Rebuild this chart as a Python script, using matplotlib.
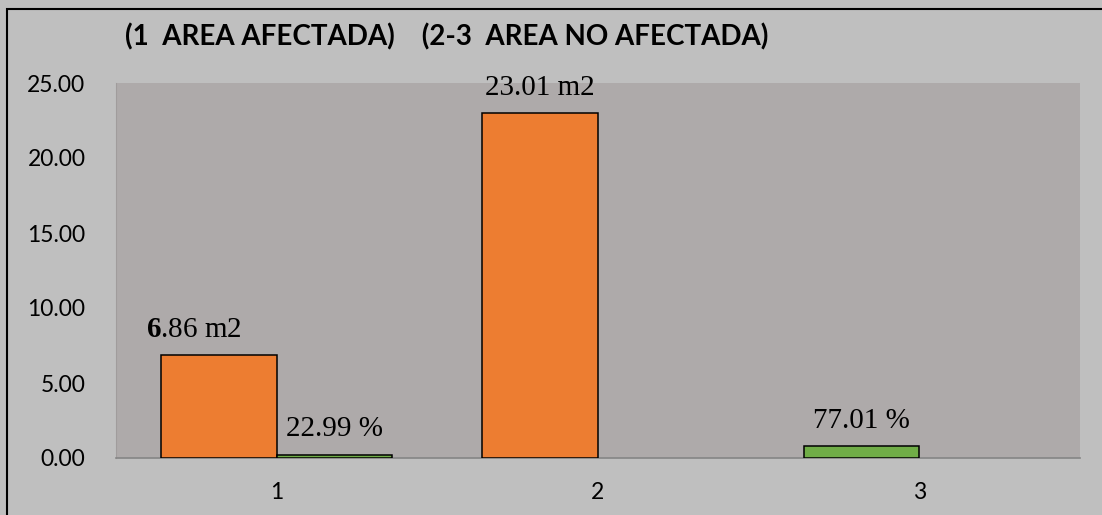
import numpy as np
import matplotlib
matplotlib.use("Agg")
import matplotlib.pyplot as plt
from matplotlib.patches import Rectangle

# datos del grafico
categorias = ["1", "2", "3"]
serie_izq = [6.86, 23.01, 0.7701]     # barra izquierda de cada categoria
colores_izq = ['#ED7D31', '#ED7D31', '#70AD47']
serie_der = [0.2299, 0.0, 0.0]        # barra derecha (22.99 %)
etiquetas_izq = [r"$\mathbf{6}$.86 m2", "23.01 m2", "77.01 %"]
etiquetas_der = ["22.99 %", "", ""]
ticks_y = [0, 5, 10, 15, 20, 25]
titulo = "(1  AREA AFECTADA)    (2-3  AREA NO AFECTADA)"

plt.rcParams['mathtext.fontset'] = 'custom'
plt.rcParams['mathtext.rm'] = 'Liberation Serif'
plt.rcParams['mathtext.bf'] = 'Liberation Serif:bold'

fig = plt.figure(figsize=(11.02, 5.15), dpi=100, facecolor='#BFBFBF')
ax = fig.add_axes([116/1102, 1 - 458/515, (1080 - 116)/1102, (458 - 83)/515])
ax.set_facecolor('#AEAAAA')

x = np.arange(len(categorias))
ancho = 0.36
izq = np.array(serie_izq)
der = np.array(serie_der)
m1 = izq > 0
m2 = der > 0
b1 = ax.bar(x[m1] - ancho/2, izq[m1], ancho, color=np.array(colores_izq)[m1],
            edgecolor='black', linewidth=1.1, zorder=3)
b2 = ax.bar(x[m2] + ancho/2, der[m2], ancho, color='#70AD47',
            edgecolor='black', linewidth=1.1, zorder=3)

# etiquetas de los valores
desp_izq = [-18, 0, 0]
for j, i in enumerate(np.where(m1)[0]):
    r = b1[j]
    ax.annotate(etiquetas_izq[i], (r.get_x() + r.get_width()/2, r.get_height()),
                xytext=(desp_izq[i], 13), textcoords='offset points',
                ha='center', va='baseline', fontsize=21, family='Liberation Serif')
for j, i in enumerate(np.where(m2)[0]):
    r = b2[j]
    ax.annotate(etiquetas_der[i], (r.get_x() + r.get_width()/2, r.get_height()),
                xytext=(0, 13), textcoords='offset points',
                ha='center', va='baseline', fontsize=21, family='Liberation Serif')

ax.set_xlim(-0.5, 2.5)
ax.set_ylim(0, 25)
ax.set_xticks(x)
ax.set_xticklabels(categorias)
ax.set_yticks(ticks_y)
ax.set_yticklabels([f"{v:.2f}" for v in ticks_y])
ax.tick_params(length=0, labelsize=16.5, pad=22)
ax.tick_params(axis='x', pad=17)
for lbl in ax.get_xticklabels() + ax.get_yticklabels():
    lbl.set_family(['Lato', 'DejaVu Sans'])
for s in ['top', 'right']:
    ax.spines[s].set_visible(False)
ax.spines['left'].set_color('#A09C9C')
ax.spines['bottom'].set_color('#858585')
ax.spines['bottom'].set_linewidth(1.2)

fig.text(125/1102, 1 - 37/515, titulo, ha='left', va='center', fontsize=20,
         fontweight='bold', family=['Lato', 'DejaVu Sans'])

# marco negro
fig.add_artist(Rectangle((7/1102, -0.1), 1.2, 1 - 9/515 + 0.1, transform=fig.transFigure,
                         fill=False, edgecolor='black', linewidth=1.5))

fig.savefig("out.png", dpi=100, facecolor=fig.get_facecolor())
